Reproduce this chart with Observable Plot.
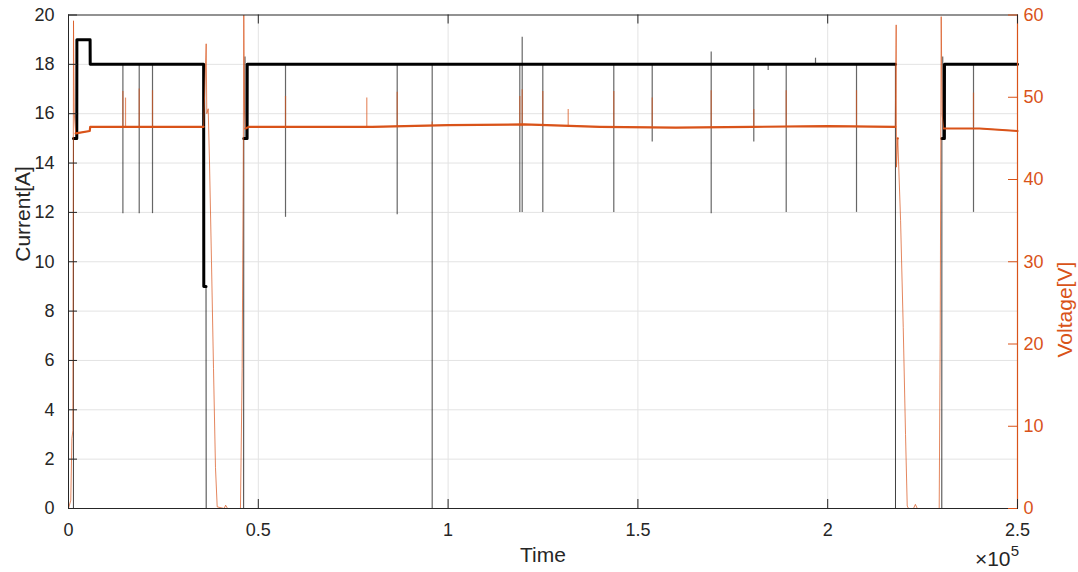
<!DOCTYPE html>
<html>
<head>
<meta charset="utf-8">
<script src="https://cdn.jsdelivr.net/npm/d3@7"></script>
<script src="https://cdn.jsdelivr.net/npm/@observablehq/plot@0.6"></script>
<style>
  html, body { margin: 0; padding: 0; background: #fff; }
  #chart svg { display: block; }
</style>
</head>
<body>
<div id="chart"></div>
<script>
// ---- tick definitions ----
const xDomain = [0, 250000];
const xTicks = [0, 50000, 100000, 150000, 200000, 250000];
const xTickLabels = ["0", "0.5", "1", "1.5", "2", "2.5"];
const currentTicks = [0, 2, 4, 6, 8, 10, 12, 14, 16, 18, 20];
const voltageTicks = [0, 10, 20, 30, 40, 50, 60];

// ---- current [A] base trace (breakpoints) ----
const currentTime  = [0, 1300, 1320, 2180, 2210, 5690, 5720, 35600, 35640, 36230, 36270, 46140, 46180, 47050, 47080, 217840, 217860, 230060, 230080, 230740, 230760, 250000];
const currentValue = [0, 0,    15,   15,   19,   19,   18,   18,    9,     9,     0,     0,     15,    15,    18,    18,     0,      0,      15,     15,     18,     18];

// current downward dips (from the 18 A plateau)
const dipTime = [14330, 18630, 22130, 57170, 86590, 95810, 118890, 119520, 124950, 143650, 153770, 169310, 180530, 184320, 189070, 207590, 238410];
const dipLow  = [11.95, 11.95, 11.95, 11.8,  11.9,  0,     12.0,   12.0,   12.0,   12.0,   14.85,  11.95,  14.85,  17.75,  12.0,   12.0,   12.0];
const dipBase = 18;

// current upward peaks
const peakTime = [46500, 119520, 169310, 196790, 230300];
const peakBase = [15, 18, 18, 18, 15];
const peakHigh = [18.3, 19.1, 18.5, 18.25, 18.3];

// ---- voltage [V] base trace (breakpoints) ----
const voltageTime  = [0, 600, 900, 1150, 1320, 1500, 1900, 5600, 5720, 20000, 35600, 36270, 36430, 36800, 37150, 37670, 38200, 38720, 39170, 41000, 41400, 41900, 45300, 45750, 46020, 46180, 46360, 46630, 47500, 80000, 100000, 120000, 140000, 160000, 180000, 200000, 217800, 218040, 218120, 218460, 219200, 219900, 220500, 220950, 221300, 222600, 223100, 223600, 229370, 229630, 229900, 230160, 230560, 240000, 250000];
const voltageValue = [0, 1,   8.5, 9.5,  59.3, 48.2, 45.6, 45.9, 46.4, 46.4,  46.4,  56.5,  48.0,  48.6,  42,    30,    17,    5,     0.2,   0,     0.4,   0,     0,     17,    40,    60,    48.4,  46.2,  46.4,  46.4,  46.6,   46.7,   46.4,   46.3,   46.4,   46.5,   46.4,   58.8,   41.5,   45,     35,     22,     9,      0.3,    0,      0,      0.5,    0,      0,      20,     59.8,   47.8,   46.2,   46.2,   45.9];

// voltage upward spikes (from the ~46.4 V plateau)
const vSpikeTime = [14330, 15020, 18630, 22130, 57170, 78580, 86590, 95810, 118890, 119520, 124950, 131640, 143650, 153770, 169310, 180530, 189070, 207590, 238410];
const vSpikeHigh = [50.7,  49.9,  51,    50.8,  50.1,  49.9,  50.6,  47,    50.1,   50.9,   50.7,   48.5,   50.7,   49.9,   50.8,   48.5,   50.8,   50.8,   50.5];
const vSpikeBase = 46.4;

// ---- build tables ----
const currentData = currentTime.map((t, i) => ({t, v: currentValue[i]}));
const voltageData = voltageTime.map((t, i) => ({t, v: voltageValue[i]}));
const dips = dipTime.map((t, i) => ({t, lo: dipLow[i]}));
const peaks = peakTime.map((t, i) => ({t, b: peakBase[i], hi: peakHigh[i]}));
const vSpikes = vSpikeTime.map((t, i) => ({t, hi: vSpikeHigh[i]}));

const vScale = 60 / 20; // right axis maps onto left axis range
const ORANGE = "#D95319";
const DARK = "#262626";
const GRID = "#e3e3e3";
const W = 1078, H = 572;
const mL = 68, mR = 61, mT = 14.5, mB = 64;
const innerW = W - mL - mR, innerH = H - mT - mB;
const TICK = 9;
const FONT = "'Liberation Sans', Arial, Helvetica, sans-serif";

const chart = Plot.plot({
  width: W, height: H,
  marginLeft: mL, marginRight: mR, marginTop: mT, marginBottom: mB,
  style: {fontFamily: FONT, background: "#fff"},
  x: {domain: xDomain},
  y: {domain: [0, 20]},
  marks: [
    // grid
    Plot.gridX(xTicks.slice(1, -1), {stroke: GRID, strokeOpacity: 1}),
    Plot.gridY(currentTicks.slice(1, -1), {stroke: GRID, strokeOpacity: 1}),

    // current trace
    Plot.line(currentData, {x: "t", y: "v", stroke: "#000", strokeWidth: 1, strokeOpacity: 0.75}),
    Plot.line(currentData, {x: "t", y: d => d.v >= 8 ? d.v : NaN, stroke: "#000", strokeWidth: 3}),
    Plot.ruleX(dips, {x: "t", y1: dipBase, y2: "lo", stroke: "#000", strokeWidth: 1.2, strokeOpacity: 0.6}),
    Plot.ruleX(peaks, {x: "t", y1: "b", y2: "hi", stroke: "#000", strokeWidth: 1.2, strokeOpacity: 0.6}),

    // voltage trace
    Plot.line(voltageData, {x: "t", y: d => d.v / vScale, stroke: ORANGE, strokeWidth: 1, strokeOpacity: 0.7}),
    Plot.line(voltageData, {x: "t", y: d => (d.v > 44 && d.v < 47.5) ? d.v / vScale : NaN, stroke: ORANGE, strokeWidth: 2.2}),
    Plot.ruleX(vSpikes, {x: "t", y1: vSpikeBase / vScale, y2: d => d.hi / vScale, stroke: ORANGE, strokeWidth: 1.2, strokeOpacity: 0.65}),

    // frame
    Plot.frame({stroke: DARK, strokeWidth: 1}),
    Plot.ruleX([xDomain[1]], {stroke: ORANGE, strokeWidth: 1.2}),

    // inward tick marks
    Plot.tickY(currentTicks, {y: d => d, insetRight: innerW - TICK, stroke: DARK}),
    Plot.tickY(voltageTicks, {y: d => d / vScale, insetLeft: innerW - TICK, stroke: ORANGE}),
    Plot.tickX(xTicks, {x: d => d, insetTop: innerH - TICK, stroke: DARK}),
    Plot.tickX(xTicks, {x: d => d, insetBottom: innerH - TICK, stroke: DARK}),

    // axes labels (tick text)
    Plot.axisY(currentTicks, {anchor: "left", tickSize: 0, tickPadding: 14, fontSize: 18, color: DARK, label: null}),
    Plot.axisY(voltageTicks.map(v => v / vScale), {anchor: "right", tickSize: 0, tickPadding: 6, fontSize: 18, color: ORANGE, tickFormat: d => String(Math.round(d * vScale)), label: null}),
    Plot.axisX(xTicks, {anchor: "bottom", tickSize: 0, tickPadding: 15, fontSize: 18, color: DARK, tickFormat: d => xTickLabels[xTicks.indexOf(d)], label: null}),

    // axis titles
    Plot.text(["Time"], {frameAnchor: "bottom", dy: 53, fontSize: 21, fill: DARK, text: d => d}),
    Plot.text(["Current[A]"], {frameAnchor: "left", dx: -45, rotate: -90, fontSize: 21, fill: DARK, text: d => d}),
    Plot.text(["Voltage[V]"], {frameAnchor: "right", dx: 48, rotate: -90, fontSize: 21, fill: ORANGE, text: d => d}),
    Plot.text(["\u00d710"], {frameAnchor: "bottom-right", dx: -7, dy: 57, textAnchor: "end", lineAnchor: "bottom", fontSize: 21, fill: DARK, text: d => d}),
    Plot.text(["5"], {frameAnchor: "bottom-right", dx: 1.5, dy: 47, textAnchor: "end", lineAnchor: "bottom", fontSize: 15, fill: DARK, text: d => d})
  ]
});
document.getElementById("chart").appendChild(chart);
</script>
</body>
</html>
